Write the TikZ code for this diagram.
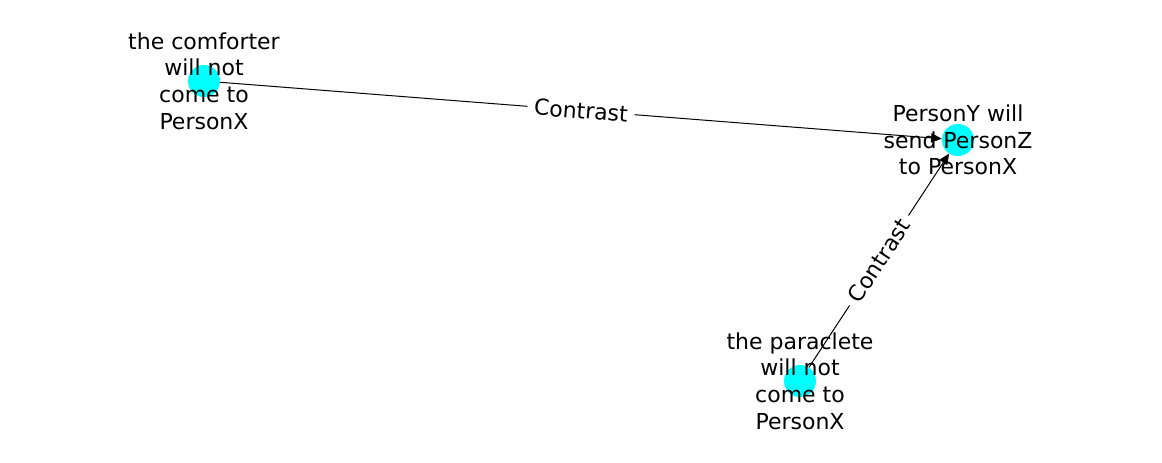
\documentclass[tikz,border=0pt]{standalone}
\usepackage{fontspec}
\setmainfont{DejaVu Sans}
\usetikzlibrary{arrows.meta}

\definecolor{aqua}{RGB}{0,255,255}

\begin{document}
\begin{tikzpicture}[x=0.75pt,y=-0.75pt]
            \tikzstyle{dot}=[circle,fill=aqua,minimum size=24pt,inner sep=0pt]
            \tikzstyle{txt}=[align=center,inner sep=0pt,font=\fontsize{16.5pt}{20pt}\selectfont]
            \tikzstyle{rel}=[draw,-{Triangle[length=8pt,width=7pt]},line width=0.75pt]
            \tikzstyle{lab}=[fill=white,inner xsep=5pt,inner ysep=3pt,sloped,font=\fontsize{16.5pt}{20pt}\selectfont]

            \useasboundingbox (0,0) rectangle (1162,462);

            % events
            \node[dot] (c1) at (204,81) {};
            \node[dot] (c2) at (958,140) {};
            \node[dot] (c3) at (800,381) {};

            \path[rel] (c1) -- node[lab] {Contrast} (c2);
            \path[rel] (c3) -- node[lab] {Contrast} (c2);

            \node[txt] (t1) at (204,81) {the comforter\\will not\\come to\\PersonX};
            \node[txt] (t2) at (958,140) {PersonY will\\send PersonZ\\to PersonX};
            \node[txt] (t3) at (800,381) {the paraclete\\will not\\come to\\PersonX};
        \end{tikzpicture}
\end{document}
